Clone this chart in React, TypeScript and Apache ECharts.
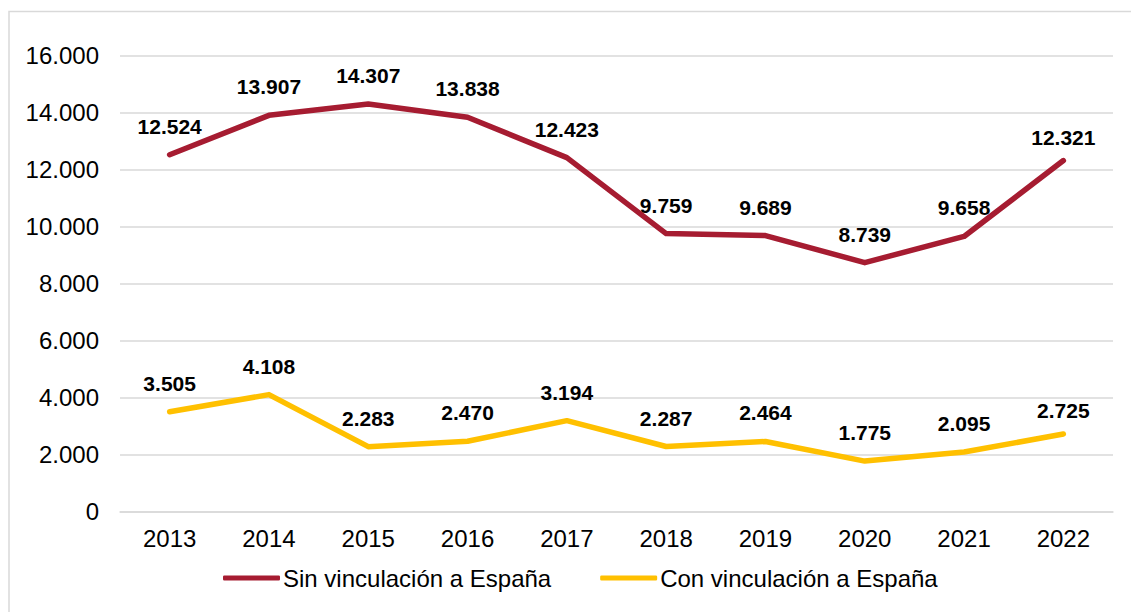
import React, { useEffect, useRef } from "react";
import * as echarts from "echarts";

const years = ["2013", "2014", "2015", "2016", "2017", "2018", "2019", "2020", "2021", "2022"];
const sinVinculacion = [12524, 13907, 14307, 13838, 12423, 9759, 9689, 8739, 9658, 12321];
const conVinculacion = [3505, 4108, 2283, 2470, 3194, 2287, 2464, 1775, 2095, 2725];
const seriesNames = ["Sin vinculación a España", "Con vinculación a España"];
const seriesColors = ["#A61C31", "#FFC000"];

const fmt = (v: number) => String(Math.round(v)).replace(/\B(?=(\d{3})+(?!\d))/g, ".");

const FONT = "'Liberation Sans', Arial, Helvetica, sans-serif";

// last point's label sits closer to the line in the reference
const withLabelTweaks = (vals: number[]) =>
  vals.map((v, i) => (i === vals.length - 1 ? { value: v, label: { distance: 13 } } : v));

export default function App() {
  const ref = useRef<HTMLDivElement>(null);
  useEffect(() => {
    document.body.style.margin = "0";
    if (!ref.current) return;
    const chart = echarts.init(ref.current, null, { renderer: "svg" });
    const labelStyle = {
      show: true,
      position: "top" as const,
      distance: 18,
      fontFamily: FONT,
      fontSize: 21,
      fontWeight: "bold" as const,
      color: "#000",
      formatter: (p: any) => fmt(p.value),
    };
    chart.setOption({
      animation: false,
      backgroundColor: "#fff",
      textStyle: { fontFamily: FONT },
      graphic: [
        {
          type: "rect",
          shape: { x: 9, y: 11.5, width: 1200, height: 700 },
          style: { fill: "none", stroke: "#d9d9d9", lineWidth: 1.5 },
          silent: true,
          z: -10,
        },
      ],
      grid: { left: 120, right: 18, top: 55.7, bottom: 100.3, containLabel: false },
      legend: {
        left: 218,
        top: 561,
        itemWidth: 57,
        itemHeight: 5,
        itemGap: 49,
        icon: "roundRect",
        textStyle: { fontFamily: FONT, fontSize: 24, color: "#000", padding: [0, 0, 0, -2] },
        data: seriesNames,
      },
      xAxis: {
        type: "category",
        data: years,
        boundaryGap: true,
        axisLine: { show: true, lineStyle: { color: "#d9d9d9", width: 1.5 } },
        axisTick: { show: false },
        axisLabel: { fontFamily: FONT, fontSize: 24, color: "#000", margin: 15 },
      },
      yAxis: {
        type: "value",
        min: 0,
        max: 16000,
        interval: 2000,
        axisLine: { show: false },
        axisTick: { show: false },
        splitLine: { lineStyle: { color: "#d9d9d9", width: 1.5 } },
        axisLabel: {
          fontFamily: FONT,
          fontSize: 24,
          color: "#000",
          margin: 21,
          formatter: (v: number) => fmt(v),
        },
      },
      series: [
        {
          name: seriesNames[0],
          type: "line",
          data: withLabelTweaks(sinVinculacion),
          color: seriesColors[0],
          lineStyle: { width: 5.5, color: seriesColors[0], cap: "round", join: "round" },
          symbol: "circle",
          symbolSize: 0,
          showSymbol: true,
          label: labelStyle,
          labelLayout: { hideOverlap: false },
        },
        {
          name: seriesNames[1],
          type: "line",
          data: withLabelTweaks(conVinculacion),
          color: seriesColors[1],
          lineStyle: { width: 5.5, color: seriesColors[1], cap: "round", join: "round" },
          symbol: "circle",
          symbolSize: 0,
          showSymbol: true,
          label: labelStyle,
          labelLayout: { hideOverlap: false },
        },
      ],
    });
    return () => chart.dispose();
  }, []);
  return <div ref={ref} style={{ width: 1131, height: 612 }} />;
}
